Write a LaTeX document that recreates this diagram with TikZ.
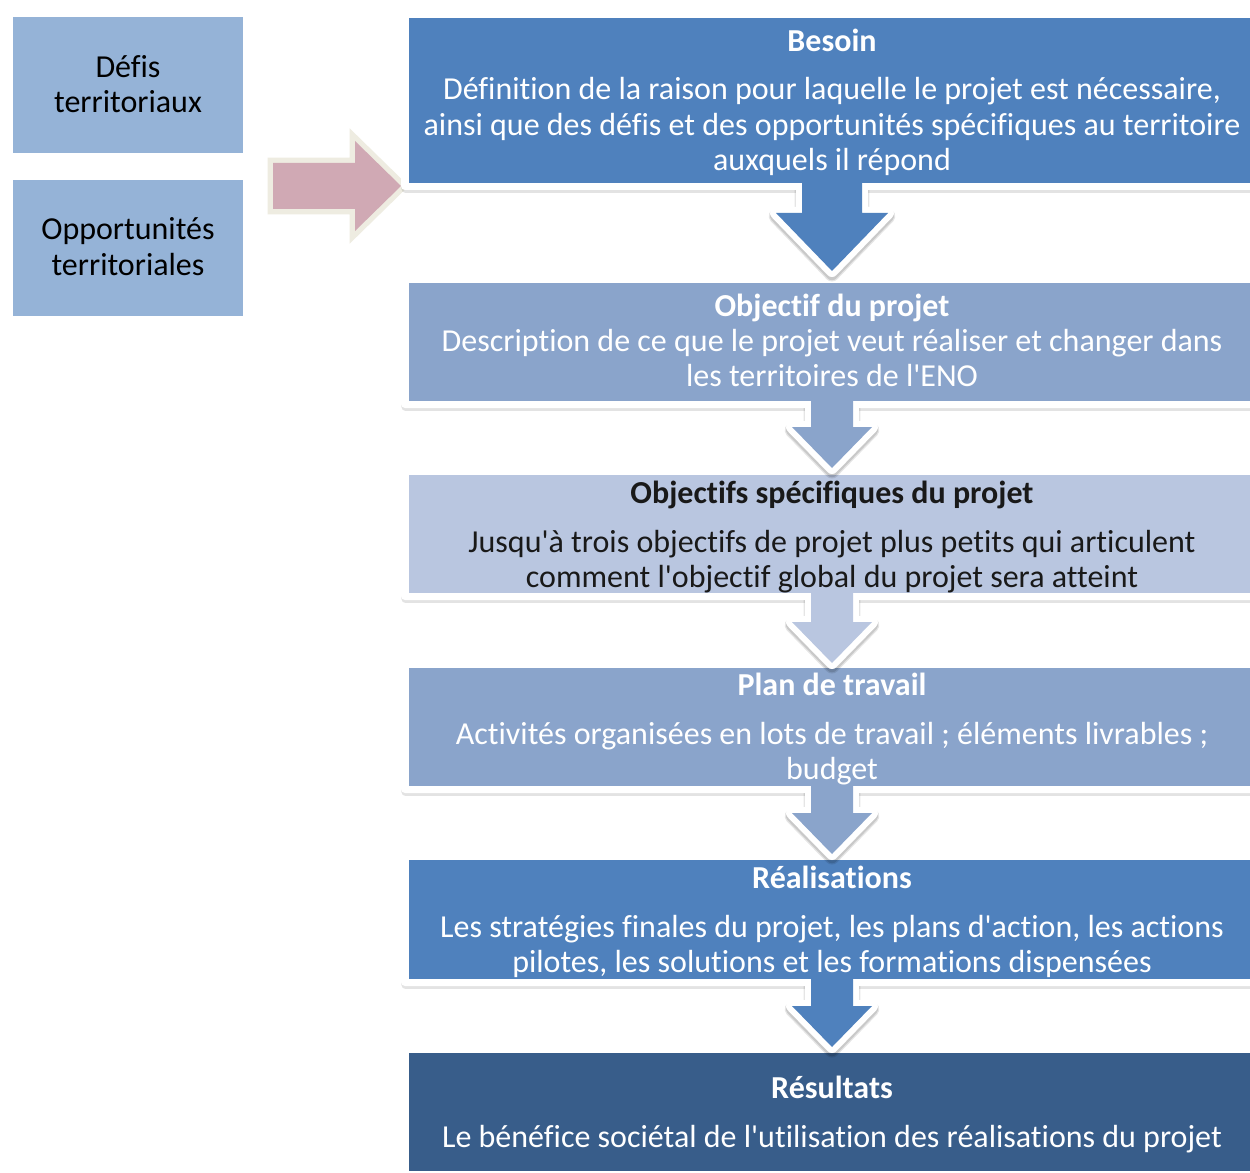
\documentclass[tikz,border=0pt]{standalone}
\usepackage{fontspec}
\setmainfont[Ligatures={NoCommon}]{Carlito}
\usetikzlibrary{shadows}
\definecolor{cA}{RGB}{79,129,189}
\definecolor{cB}{RGB}{138,164,203}
\definecolor{cC}{RGB}{185,198,224}
\definecolor{cD}{RGB}{56,93,138}
\definecolor{cL}{RGB}{149,179,215}
\definecolor{pinkf}{RGB}{208,169,180}
\definecolor{beigeo}{RGB}{238,236,225}
\definecolor{dtext}{RGB}{25,25,25}
\newcommand{\q}{\textquotesingle}
% #1 colour, #2 top y, #3 shoulder y, #4 tip y, #5 shaft half width, #6 head half width
\newcommand{\darrow}[6]{%
  \draw[shadowA, yshift=-2.4pt] ({832-#5},{#2+4}) -- ({832-#5},#3) -- ({832-#6},#3) -- (832,#4) -- ({832+#6},#3) -- ({832+#5},#3) -- ({832+#5},{#2+4});
  \draw[shadowB, yshift=-2.4pt] ({832-#5},{#2+4}) -- ({832-#5},#3) -- ({832-#6},#3) -- (832,#4) -- ({832+#6},#3) -- ({832+#5},#3) -- ({832+#5},{#2+4});
  \draw[wline] ({832-#5},{#2+3}) -- ({832-#5},#3) -- ({832-#6},#3) -- (832,#4) -- ({832+#6},#3) -- ({832+#5},#3) -- ({832+#5},{#2+3});
  \fill[#1] ({832-#5},{#2-3}) -- ({832-#5},#3) -- ({832-#6},#3) -- (832,#4) -- ({832+#6},#3) -- ({832+#5},#3) -- ({832+#5},{#2-3}) -- cycle;
}
\begin{document}
\begin{tikzpicture}[x=0.75pt,y=-0.75pt,
  frame/.style={fill=white, rounded corners=3pt, drop shadow={shadow xshift=0.3pt,shadow yshift=-2.2pt,opacity=0.22}},
  txt/.style={font=\fontsize{24pt}{28pt}\selectfont, inner sep=0pt, anchor=base},
  ttl/.style={txt, font=\fontsize{24pt}{28pt}\selectfont\bfseries},
  wline/.style={draw=white, line width=9pt, line join=round, line cap=butt},
  shadowA/.style={draw=black, opacity=0.10, line width=11pt, line join=round, line cap=butt},
  shadowB/.style={draw=black, opacity=0.12, line width=9pt, line join=round, line cap=butt},
]
\useasboundingbox (0,0) rectangle (1250,1173);
\clip (0,0) rectangle (1250,1173);
\fill[white] (0,0) rectangle (1250,1173);

% left boxes
\fill[cL] (13,17) rectangle (243,153);
\fill[cL] (13,180) rectangle (243,316);
\node[txt] (l1a) at (128,78) {Défis};
\node[txt] (l1b) at (128,113) {territoriaux};
\node[txt] (l2a) at (128,240) {Opportunités};
\node[txt] (l2b) at (128,276) {territoriales};

% pink arrow
\draw[draw=beigeo, line width=8pt, line join=miter, miter limit=3]
  (273,163) -- (355,163) -- (355,141) -- (401,186) -- (355,231) -- (355,209) -- (273,209) -- cycle;
\fill[pinkf]
  (273,163) -- (355,163) -- (355,141) -- (401,186) -- (355,231) -- (355,209) -- (273,209) -- cycle;

% boxes: frames
\path[frame] (401,11) rectangle (1262,190);
\path[frame] (401,276) rectangle (1262,408);
\path[frame] (401,467) rectangle (1262,600);
\path[frame] (401,660) rectangle (1262,793);
\path[frame] (401,852) rectangle (1262,986);
\path[frame] (401,1045) rectangle (1262,1190);
% fills
\fill[cA] (409,18) rectangle (1262,183);
\fill[cB] (409,283) rectangle (1262,401);
\fill[cC] (409,475) rectangle (1262,593);
\fill[cB] (409,668) rectangle (1262,786);
\fill[cA] (409,860) rectangle (1262,979);
\fill[cD] (409,1053) rectangle (1262,1171);

% down arrows
\darrow{cA}{183}{213}{271}{30}{56}
\darrow{cB}{401}{427}{468}{21}{40}
\darrow{cC}{593}{622}{663}{21}{40}
\darrow{cB}{786}{813}{854}{21}{40}
\darrow{cA}{979}{1006}{1047}{21}{40}

% texts
\begin{scope}[every node/.append style={text=white}]
\node[ttl] (t1) at (832,52) {Besoin};
\node[txt] (t1a) at (832,100) {Définition de la raison pour laquelle le projet est nécessaire,};
\node[txt] (t1b) at (832,136) {ainsi que des défis et des opportunités spécifiques au territoire};
\node[txt] (t1c) at (832,171) {auxquels il répond};

\node[ttl] (t2) at (832,317) {Objectif du projet};
\node[txt] (t2a) at (832,352) {Description de ce que le projet veut réaliser et changer dans};
\node[txt] (t2b) at (832,387) {les territoires de l\q ENO};

\node[ttl] (t4) at (832,695) {Plan de travail};
\node[txt] (t4a) at (832,744) {Activités organisées en lots de travail ; éléments livrables ;};
\node[txt] (t4b) at (832,779) {budget};

\node[ttl] (t5) at (832,888) {Réalisations};
\node[txt] (t5a) at (832,937) {Les stratégies finales du projet, les plans d\q action, les actions};
\node[txt] (t5b) at (832,972) {pilotes, les solutions et les formations dispensées};

\node[ttl] (t6) at (832,1098) {Résultats};
\node[txt] (t6a) at (832,1147) {Le bénéfice sociétal de l\q utilisation des réalisations du projet};
\end{scope}

\begin{scope}[every node/.append style={text=dtext}]
\node[ttl] (t3) at (832,503) {Objectifs spécifiques du projet};
\node[txt] (t3a) at (832,552) {Jusqu\q à trois objectifs de projet plus petits qui articulent};
\node[txt] (t3b) at (832,587) {comment l\q objectif global du projet sera atteint};
\end{scope}
\end{tikzpicture}
\end{document}
